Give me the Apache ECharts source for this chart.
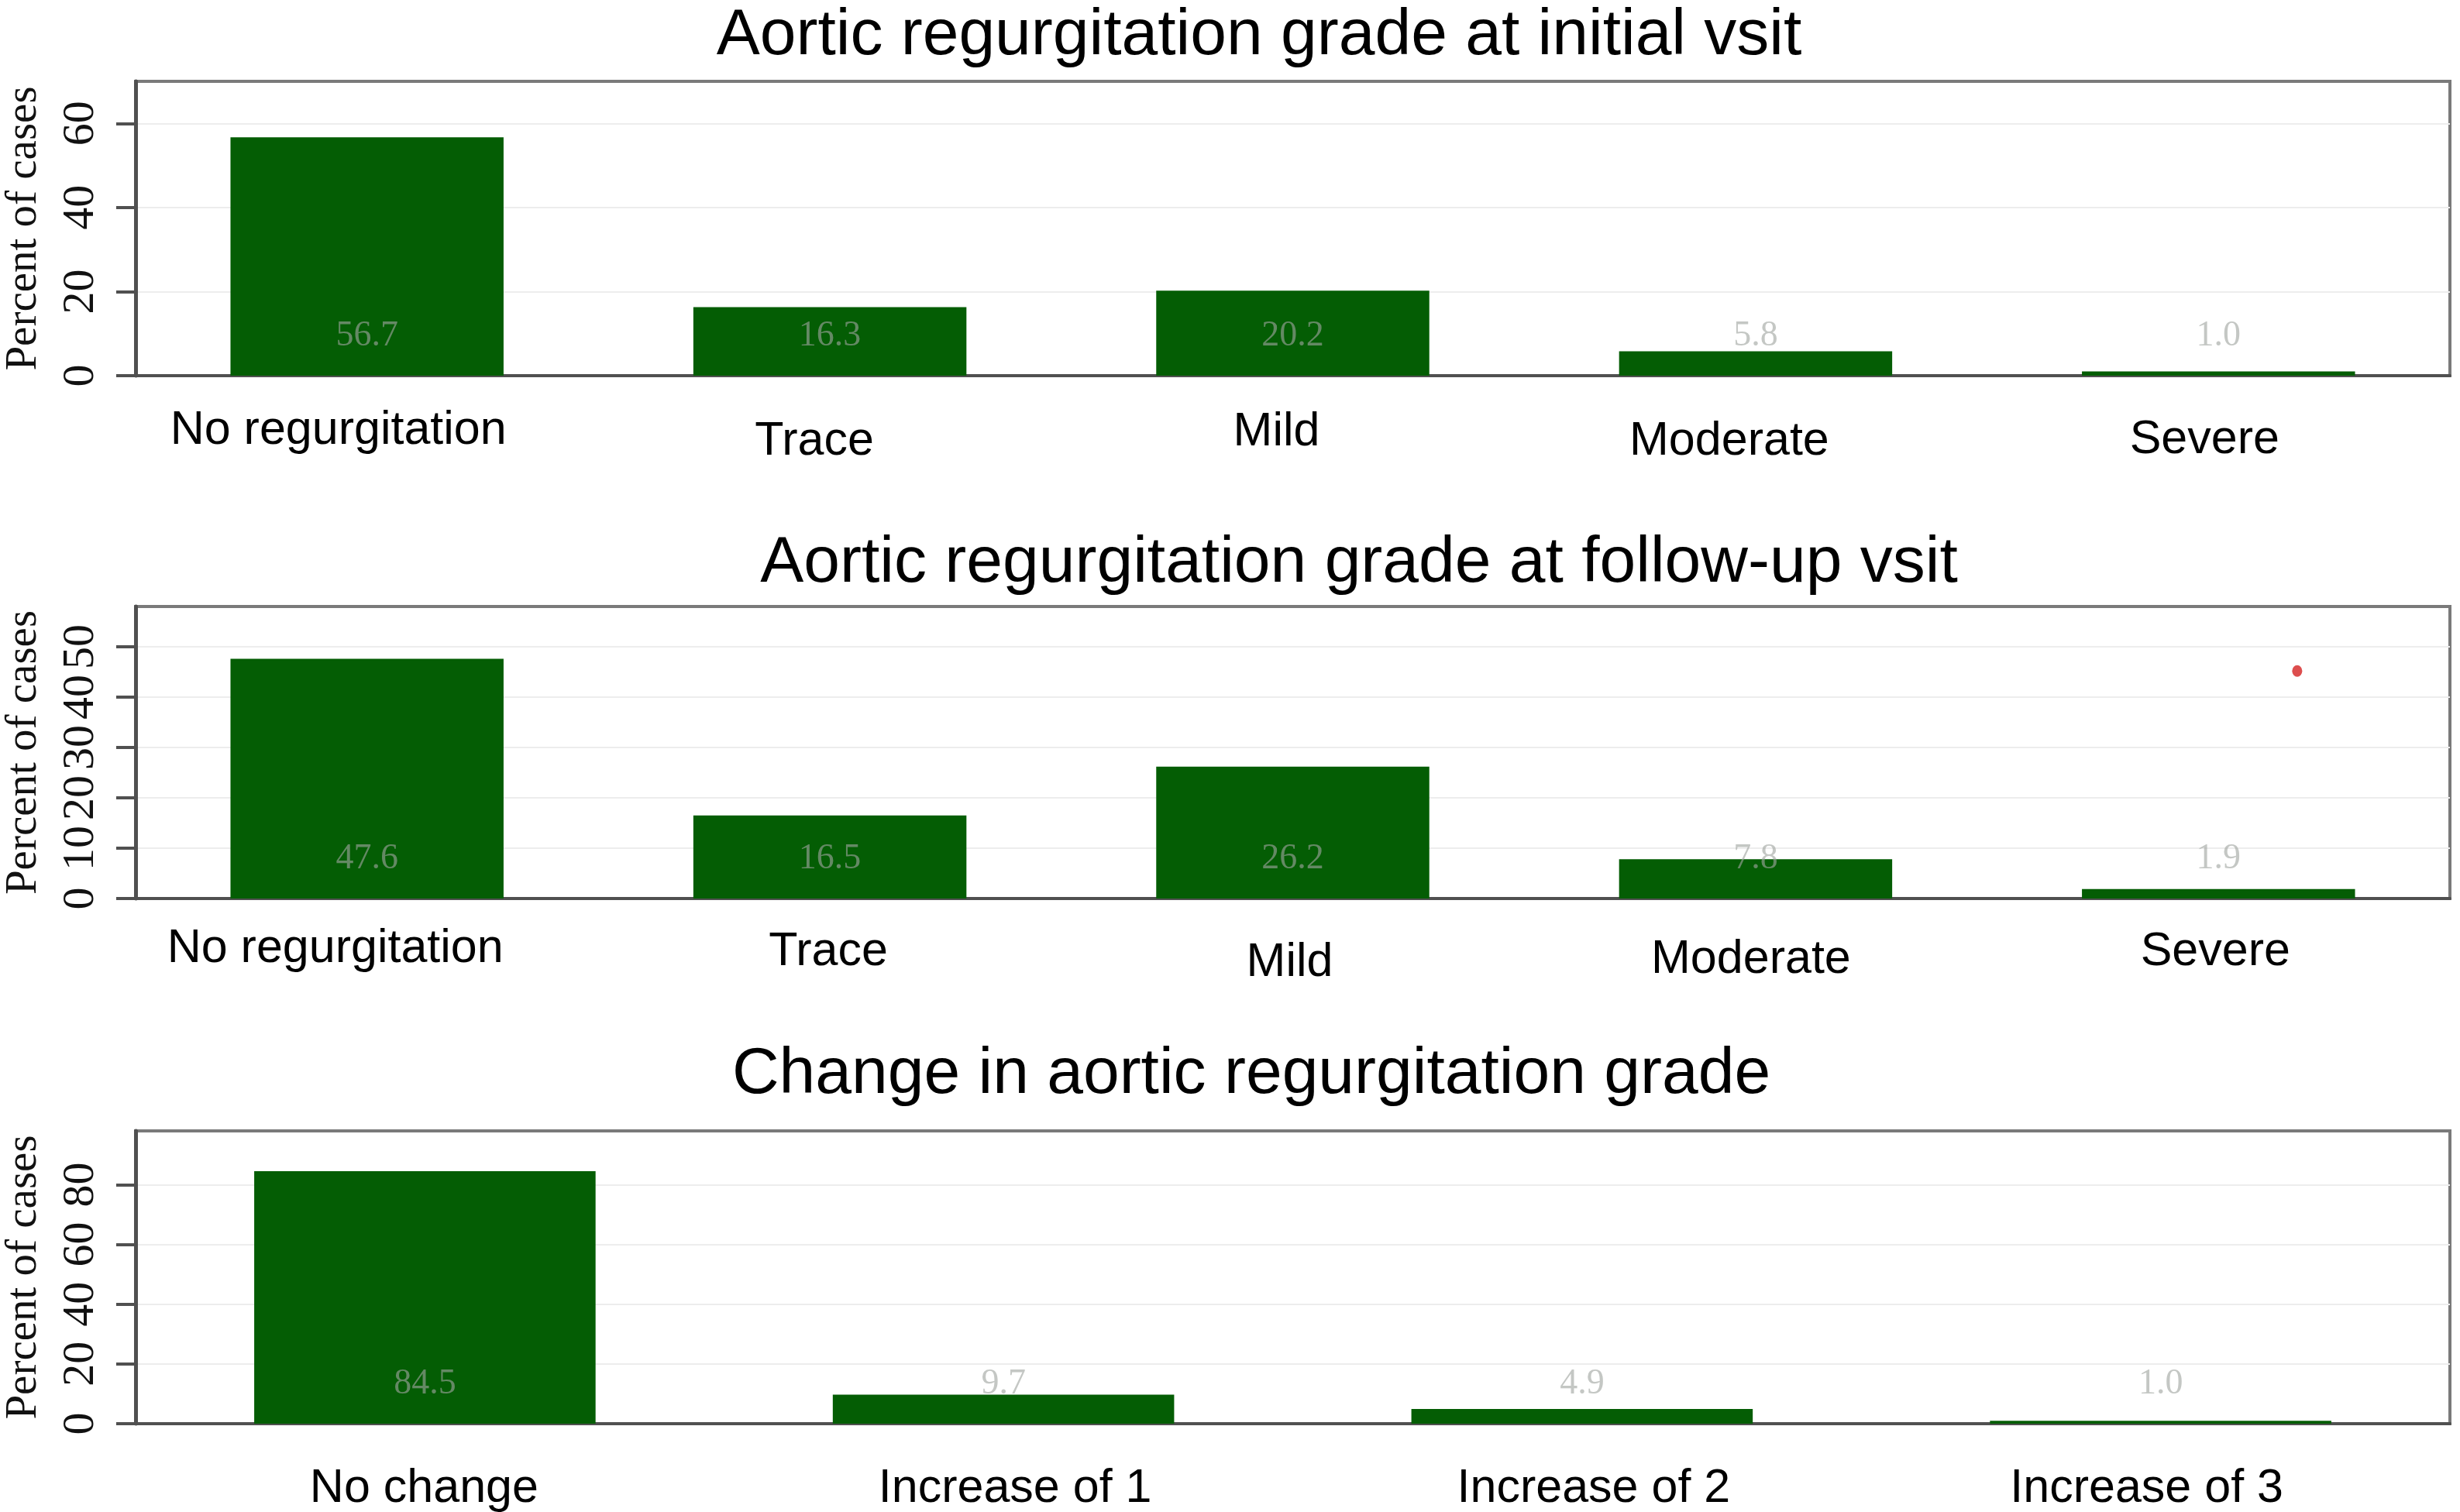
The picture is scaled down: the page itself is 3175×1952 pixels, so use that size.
<!DOCTYPE html>
<html>
<head>
<meta charset="utf-8">
<title>Aortic regurgitation grade</title>
<script src="https://cdn.jsdelivr.net/npm/echarts@6/dist/echarts.min.js"></script>
<style>
  html, body { margin: 0; padding: 0; background: #fff; }
  #chart { width: 3175px; height: 1952px; }
</style>
</head>
<body>
<div id="chart"></div>
<script>
// data
const gradeCategories = ['No regurgitation', 'Trace', 'Mild', 'Moderate', 'Severe']
const initialPercent = [56.7, 16.3, 20.2, 5.8, 1.0]
const followUpPercent = [47.6, 16.5, 26.2, 7.8, 1.9]
const changeCategories = ['No change', 'Increase of 1', 'Increase of 2', 'Increase of 3']
const changePercent = [84.5, 9.7, 4.9, 1.0]

const initialTicks = [0, 20, 40, 60]
const followUpTicks = [0, 10, 20, 30, 40, 50]
const changeTicks = [0, 20, 40, 60, 80]

// stray red dot in the follow-up panel (category index, percent)
const strayPoint = [[4.17, 45.2]]

// hand placed category labels in the original: [dx, dy] in px
const initialLabelShift = [[-37, 0], [-20, 14], [-21, 2], [-34, 14], [-18, 12]]
const followUpLabelShift = [[-41, 0], [-2, 4], [-4, 18], [-6, 14], [-4, 4]]
const changeLabelShift = [[-1, 0], [15, 0], [15, 0], [-18, 0]]

const SANS = 'Liberation Sans, Arial, sans-serif'
const SERIF = 'Liberation Serif, Times New Roman, serif'
const BAR_COLOR = '#045d04'
const AXIS_COLOR = '#505050'

const panels = [
  { title: 'Aortic regurgitation grade at initial vsit', titleX: 1620, titleTop: 0, top: 105, height: 380, max: 70, ticks: initialTicks, margin: 41, shift: initialLabelShift },
  { title: 'Aortic regurgitation grade at follow-up vsit', titleX: 1749, titleTop: 681, top: 783, height: 377, max: 58, ticks: followUpTicks, margin: 35, shift: followUpLabelShift },
  { title: 'Change in aortic regurgitation grade', titleX: 1610, titleTop: 1341, top: 1460, height: 378, max: 98, ticks: changeTicks, margin: 54, shift: changeLabelShift }
]

function categoryLabel(shift) {
  const rich = {}
  shift.forEach((s, i) => {
    const dx = s[0]
    rich['s' + i] = {
      fontFamily: SANS,
      fontSize: 61,
      color: '#000',
      padding: [s[1], dx < 0 ? -2 * dx : 0, 0, dx > 0 ? 2 * dx : 0]
    }
  })
  return {
    formatter: (value, index) => '{s' + index + '|' + value + '}',
    rich
  }
}

const chart = echarts.init(document.getElementById('chart'))

const option = {
  animation: false,
  backgroundColor: '#fff',
  title: panels.map((p) => ({
    text: p.title,
    left: p.titleX,
    top: p.titleTop,
    textAlign: 'center',
    textStyle: { fontFamily: SANS, fontSize: 84, fontWeight: 'normal', color: '#000' }
  })),
  grid: panels.map((p) => ({
    left: 175,
    right: 13,
    top: p.top,
    height: p.height,
    show: true,
    borderColor: '#7a7a7a',
    borderWidth: 4,
    backgroundColor: '#fff',
    outerBoundsMode: 'none'
  })),
  xAxis: [
    ...panels.map((p, i) => ({
      type: 'category',
      gridIndex: i,
      data: i === 2 ? changeCategories : gradeCategories,
      axisLine: { onZero: false, lineStyle: { color: AXIS_COLOR, width: 4 } },
      axisTick: { show: false },
      axisLabel: Object.assign(categoryLabel(p.shift), { margin: p.margin, interval: 0 })
    })),
    {
      type: 'value',
      gridIndex: 1,
      min: -0.5,
      max: 4.5,
      show: false
    }
  ],
  yAxis: panels.map((p, i) => ({
    type: 'value',
    gridIndex: i,
    min: 0,
    max: p.max,
    name: 'Percent of cases',
    nameLocation: 'middle',
    nameGap: 115,
    nameTextStyle: { fontFamily: SERIF, fontSize: 57, color: '#111' },
    axisLine: { show: true, onZero: false, lineStyle: { color: AXIS_COLOR, width: 5 } },
    axisTick: { show: true, length: 25, customValues: p.ticks, lineStyle: { color: AXIS_COLOR, width: 4 } },
    axisLabel: {
      customValues: p.ticks,
      rotate: 90,
      margin: 41,
      fontFamily: SERIF,
      fontSize: 58,
      color: '#111'
    },
    splitLine: { show: true, lineStyle: { color: '#ededed', width: 2 } }
  })),
  series: [
    ...[initialPercent, followUpPercent, changePercent].map((values, i) => ({
      type: 'bar',
      xAxisIndex: i,
      yAxisIndex: i,
      data: values,
      barWidth: '59%',
      itemStyle: { color: BAR_COLOR },
      label: {
        show: true,
        position: 'insideBottom',
        distance: 28,
        formatter: (d) => d.value.toFixed(1),
        fontFamily: SERIF,
        fontSize: 46,
        color: 'rgba(160, 165, 160, 0.62)'
      }
    })),
    {
      type: 'scatter',
      xAxisIndex: 3,
      yAxisIndex: 1,
      data: strayPoint,
      symbolSize: [13, 15],
      itemStyle: { color: '#d42222' }
    }
  ]
}

chart.setOption(option)
</script>
</body>
</html>
